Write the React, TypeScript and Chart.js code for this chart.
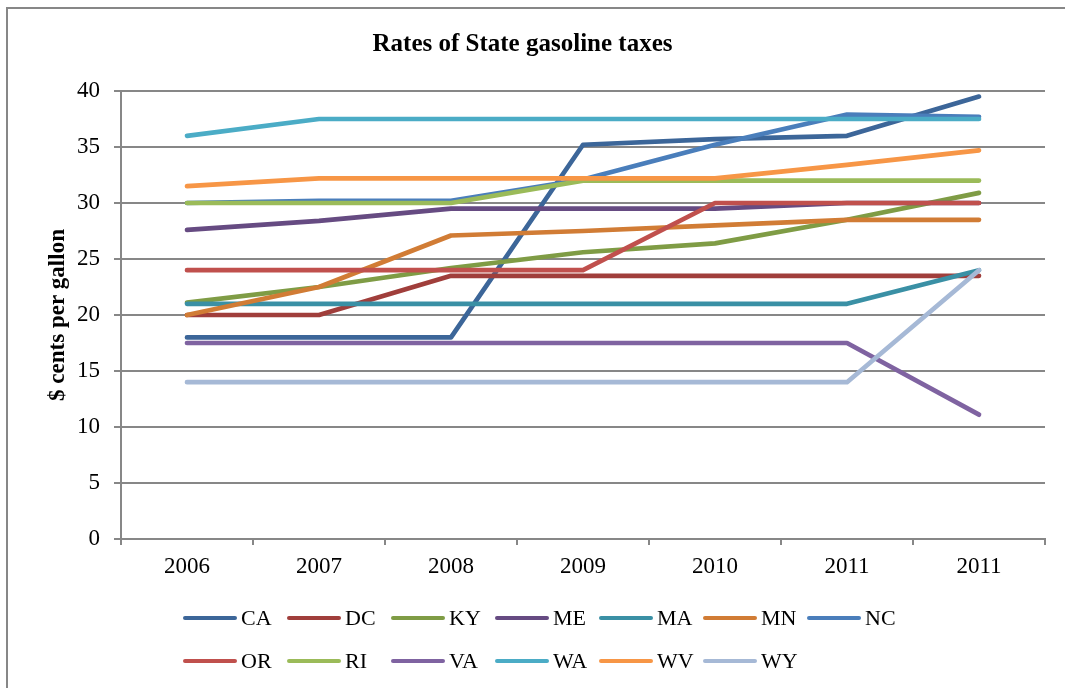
import React, { useEffect, useRef } from "react";
import { Chart, registerables } from "chart.js";

Chart.register(...registerables);

const categories = ["2006", "2007", "2008", "2009", "2010", "2011", "2011"];
const seriesNames = ["CA", "DC", "KY", "ME", "MA", "MN", "NC", "OR", "RI", "VA", "WA", "WV", "WY"];

const CA = [18, 18, 18, 35.2, 35.7, 36, 39.5];
const DC = [20, 20, 23.5, 23.5, 23.5, 23.5, 23.5];
const KY = [21.1, 22.5, 24.2, 25.6, 26.4, 28.5, 30.9];
const ME = [27.6, 28.4, 29.5, 29.5, 29.5, 30, 30];
const MA = [21, 21, 21, 21, 21, 21, 24];
const MN = [20, 22.5, 27.1, 27.5, 28, 28.5, 28.5];
const NC = [30, 30.2, 30.2, 32.1, 35.2, 37.9, 37.7];
const OR = [24, 24, 24, 24, 30, 30, 30];
const RI = [30, 30, 30, 32, 32, 32, 32];
const VA = [17.5, 17.5, 17.5, 17.5, 17.5, 17.5, 11.1];
const WA = [36, 37.5, 37.5, 37.5, 37.5, 37.5, 37.5];
const WV = [31.5, 32.2, 32.2, 32.2, 32.2, 33.4, 34.7];
const WY = [14, 14, 14, 14, 14, 14, 24];

const seriesValues = [CA, DC, KY, ME, MA, MN, NC, OR, RI, VA, WA, WV, WY];
const seriesColors = [
  "#3c6699", "#a03e3b", "#7f9c45", "#664b82", "#3a90a5", "#d17c35", "#4a7ebb",
  "#c0504d", "#9bbb59", "#7f63a1", "#4bacc6", "#f79646", "#a6b9d6",
];

const yTicks = [0, 5, 10, 15, 20, 25, 30, 35, 40];

const chartTitle = "Rates of State gasoline taxes";
const yTitle = "$ cents per gallon";

const SERIF = '"Liberation Serif", "Times New Roman", serif';
const GRID = "#878787";

export default function App() {
  const ref = useRef<HTMLCanvasElement | null>(null);

  useEffect(() => {
    document.body.style.margin = "0";
    const canvas = ref.current;
    if (!canvas) return;
    const chart = new Chart(canvas, {
      type: "line",
      data: {
        labels: categories,
        datasets: seriesNames.map((name, i) => ({
          label: name,
          data: seriesValues[i],
          borderColor: seriesColors[i],
          backgroundColor: seriesColors[i],
          borderWidth: 4.7,
          borderCapStyle: "round",
          borderJoinStyle: "round",
          pointRadius: 0,
          pointHoverRadius: 0,
          tension: 0,
          fill: false,
          order: -i,
        })),
      },
      options: {
        responsive: false,
        animation: false,
        layout: { padding: { left: 0, right: 20, top: 0, bottom: 0 } },
        plugins: {
          legend: { display: false },
          tooltip: { enabled: false },
          title: {
            display: true,
            text: chartTitle,
            color: "#000",
            font: { family: SERIF, size: 25, weight: "bold" },
            padding: { top: 30, bottom: 31 },
          },
        },
        scales: {
          x: {
            type: "category",
            offset: true,
            grid: {
              display: true,
              drawOnChartArea: false,
              drawTicks: true,
              tickLength: 6,
              offset: true,
              color: GRID,
              lineWidth: 2,
            },
            border: { display: true, color: GRID, width: 2 },
            ticks: {
              color: "#000",
              font: { family: SERIF, size: 23 },
              padding: 8,
              maxRotation: 0,
              autoSkip: false,
            },
            afterFit: (s: any) => {
              s.height = 149;
            },
          },
          y: {
            min: 0,
            max: 40,
            afterBuildTicks: (s: any) => {
              s.ticks = yTicks.map((v) => ({ value: v }));
            },
            grid: { color: GRID, lineWidth: 2, tickLength: 7, drawTicks: true },
            border: { display: true, color: GRID, width: 2 },
            ticks: {
              color: "#000",
              font: { family: SERIF, size: 23 },
              padding: 14,
            },
            title: {
              display: true,
              text: yTitle,
              color: "#000",
              font: { family: SERIF, size: 23, weight: "bold" },
              padding: { top: 44, bottom: 0 },
            },
            afterFit: (s: any) => {
              s.width = 121;
            },
          },
        },
      },
    });
    return () => chart.destroy();
  }, []);

  const legendRows = [seriesNames.slice(0, 7), seriesNames.slice(7)];

  return (
    <div style={{ position: "fixed", left: 0, top: 0, width: 1065, height: 688, overflow: "hidden", background: "#fff" }}>
      <div
        style={{
          position: "absolute",
          left: 6,
          top: 7,
          width: 1080,
          height: 700,
          border: `2px solid ${GRID}`,
          boxSizing: "border-box",
        }}
      />
      <canvas ref={ref} width={1065} height={688} style={{ position: "absolute", left: 0, top: 0 }} />
      {legendRows.map((row, r) =>
        row.map((name, c) => {
          const idx = r * 7 + c;
          return (
            <div
              key={name}
              style={{
                position: "absolute",
                left: 183 + c * 104,
                top: (r === 0 ? 618 : 661) - 14,
                height: 28,
                display: "flex",
                alignItems: "center",
                fontFamily: SERIF,
                fontSize: 22,
                color: "#000",
                whiteSpace: "nowrap",
              }}
            >
              <span
                style={{
                  display: "inline-block",
                  width: 54,
                  height: 4.7,
                  borderRadius: 3,
                  background: seriesColors[idx],
                  marginRight: 4,
                }}
              />
              <span>{name}</span>
            </div>
          );
        })
      )}
    </div>
  );
}
